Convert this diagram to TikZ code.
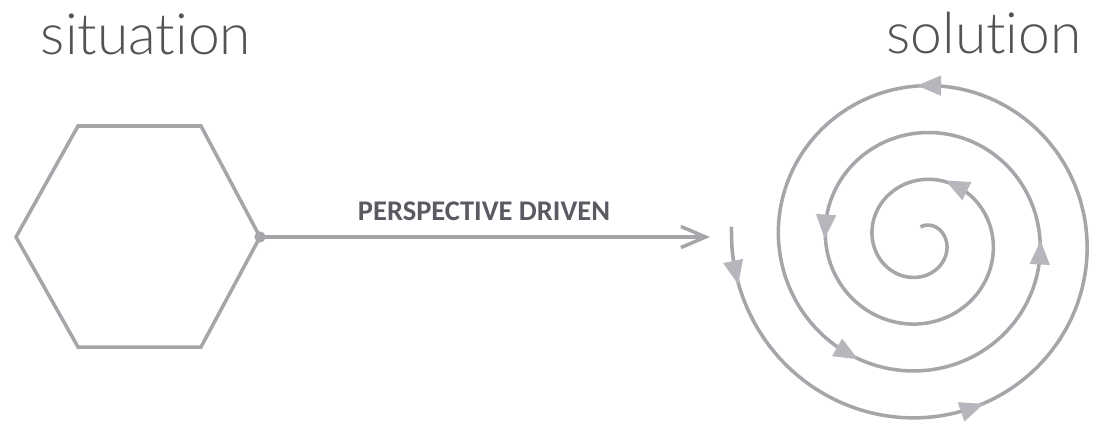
\documentclass[tikz,border=0pt]{standalone}
\usepackage{fontspec}
\setmainfont{Carlito}
\newfontfamily\headfont{Lato Light}[Ligatures={NoCommon}]
\usetikzlibrary{arrows.meta}
\definecolor{linegray}{RGB}{165,165,170}
\definecolor{tipgray}{RGB}{182,182,188}
\definecolor{headgray}{RGB}{84,84,88}
\definecolor{labelgray}{RGB}{90,90,98}

\tikzset{
  flowline/.style={draw=linegray, line width=1pt},
  heading/.style={font=\headfont\fontsize{16.2}{16}\selectfont, text=headgray, anchor=base, inner sep=0pt},
}

\begin{document}
\begin{tikzpicture}[x=0.01cm, y=-0.01cm]
    \useasboundingbox (0,0) rectangle (1097,421);

    % titles
    \node[heading] (situation) at (146,54) {situation};
    \node[heading] (solution) at (984,53) {solution};

    % hexagon
    \coordinate (hex-w) at (16,237);
    \coordinate (hex-nw) at (78,126);
    \coordinate (hex-ne) at (201,126);
    \coordinate (hex-e) at (260,237);
    \coordinate (hex-se) at (201,347);
    \coordinate (hex-sw) at (78,347);
    \draw[flowline, line join=miter] (hex-w) -- (hex-nw) -- (hex-ne) -- (hex-e)
        -- (hex-se) -- (hex-sw) -- cycle;
    \fill[linegray] (hex-e) circle (1.6pt);

    % connector
    \coordinate (drive-end) at (710,237);
    \draw[flowline, -{Straight Barb[length=7pt, width=6pt]}] (hex-e) -- (drive-end);
    \node[font=\bfseries\fontsize{8.1}{8}\selectfont, text=labelgray, inner sep=0pt]
        (drive-label) at (484,211) {PERSPECTIVE DRIVEN};

    % spiral, radius shrinks 47 per turn
    \coordinate (spiral-c) at (921,240);
    \draw[flowline] plot[smooth, domain=176:1532, samples=220, variable=\t]
        ({921+(189.5-0.130556*(\t-180))*cos(\t)}, {240-(189.5-0.130556*(\t-180))*sin(\t)});
    % arrow heads along the spiral
    \foreach \a in {190,287,447,597,714,892,1137}{
        \pgfmathsetmacro\r{189.5-0.130556*(\a-180)}
        \pgfmathsetmacro\dir{mod(\a+90+atan(7.48/\r),360)}
        \fill[tipgray, shift={({921+\r*cos(\a)},{240-\r*sin(\a)})}, rotate=\dir]
            (3.4pt,0pt) -- (-3.4pt,2.9pt) -- (-3.4pt,-2.9pt) -- cycle;
    }
\end{tikzpicture}
\end{document}
